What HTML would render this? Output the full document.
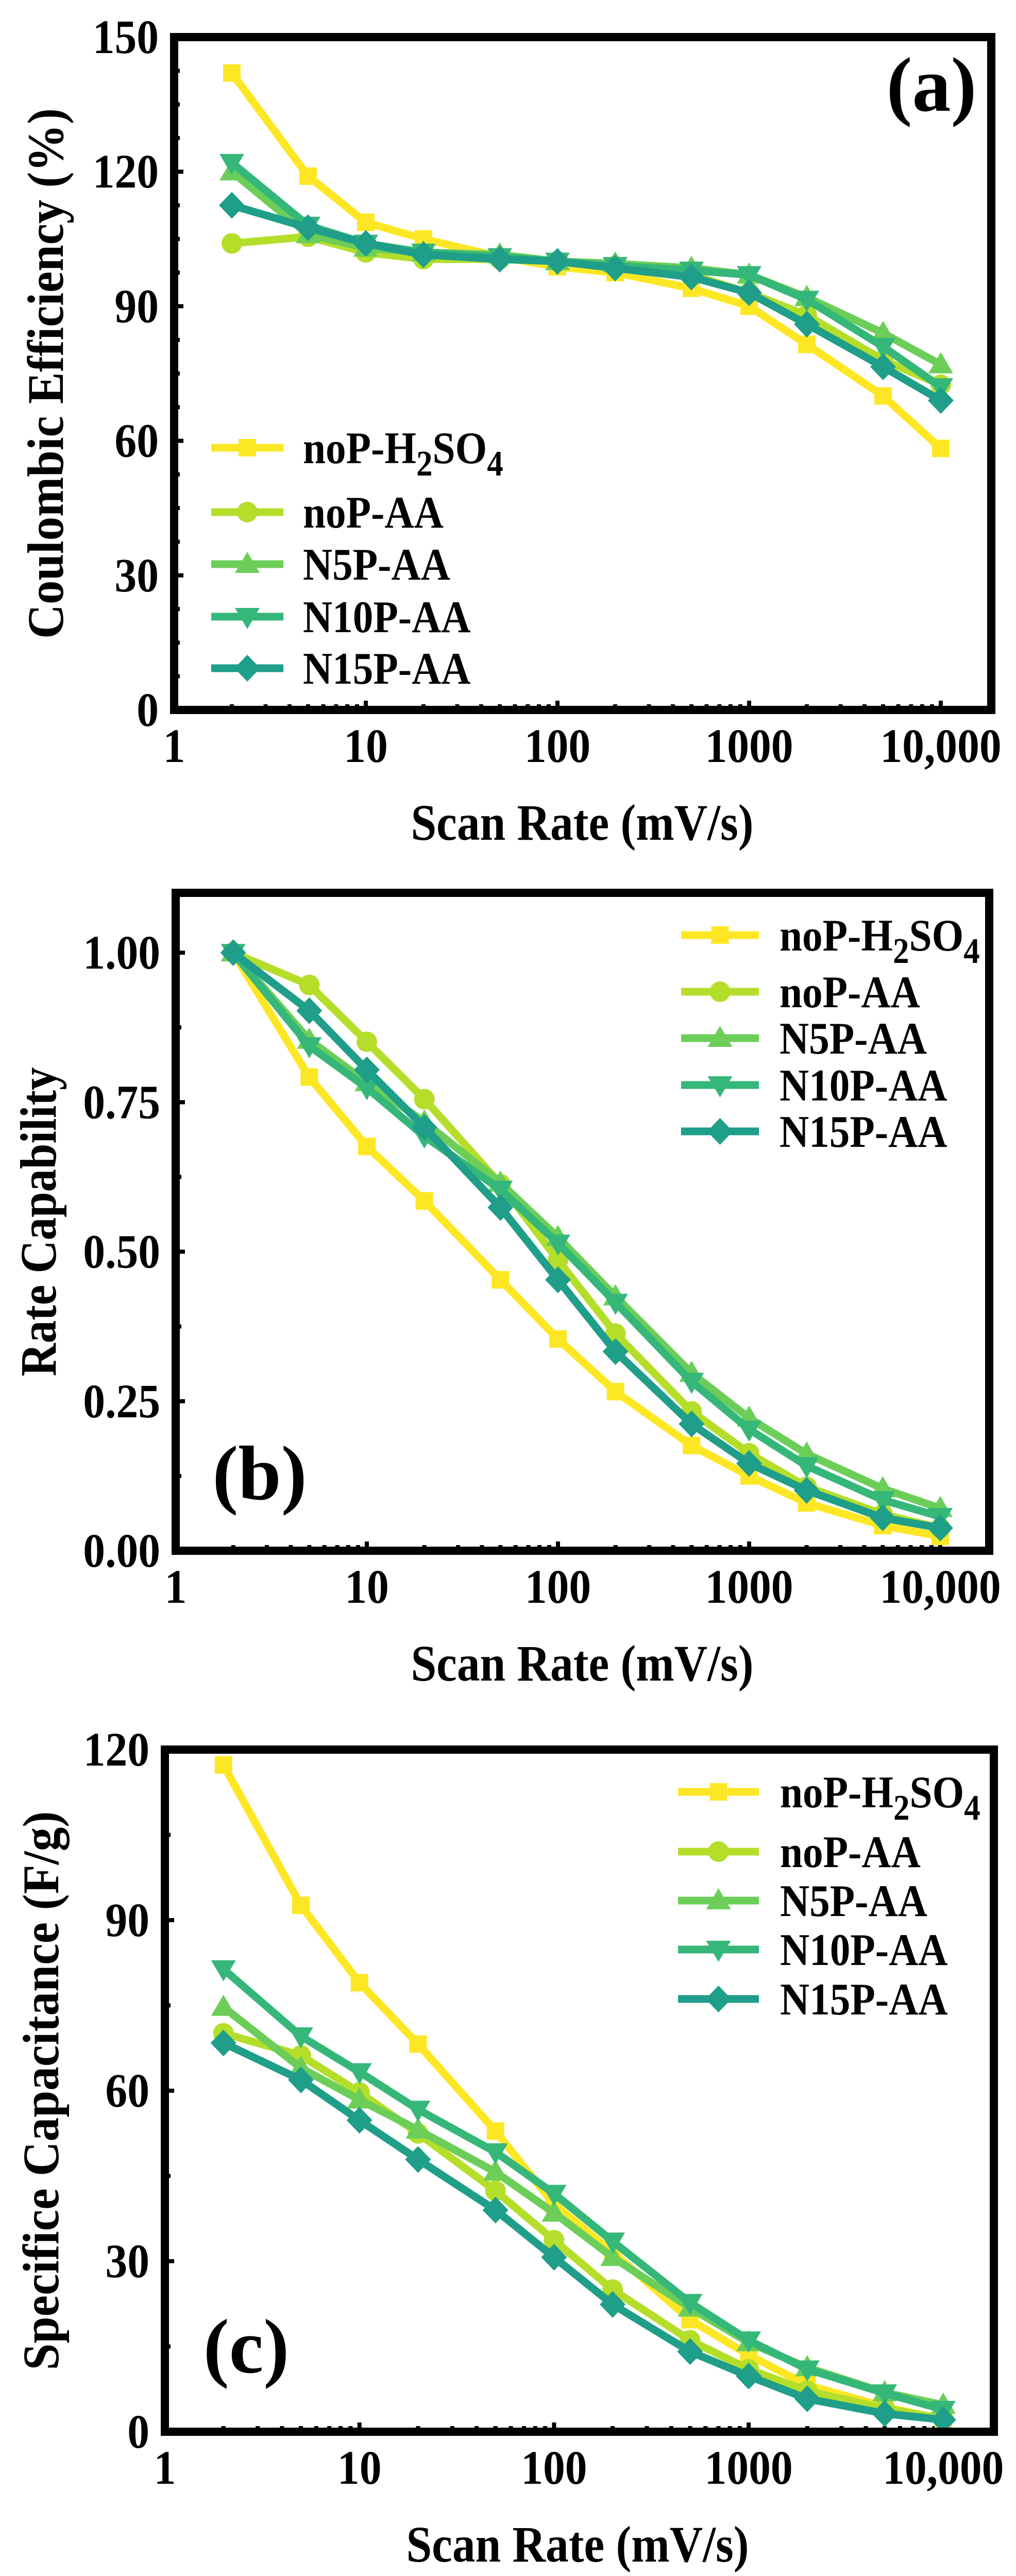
<!DOCTYPE html>
<html><head><meta charset="utf-8"><style>
html,body{margin:0;padding:0;background:#fff;overflow:hidden;width:1972px;height:5021px;}
svg{display:block;}
text{font-family:"Liberation Serif","DejaVu Serif",serif;font-weight:bold;fill:#000;}
</style></head><body>
<svg id="fig" width="1972" height="5021" viewBox="0 0 1972 5021" xmlns="http://www.w3.org/2000/svg" font-family="Liberation Serif, DejaVu Serif, serif" font-weight="bold"></svg>
<script>
const scanRates = [2,5,10,20,50,100,200,500,1000,2000,5000,10000];
const seriesNames = ["noP-H2SO4","noP-AA","N5P-AA","N10P-AA","N15P-AA"];
const seriesColors = ["#FDE725","#B5DE2B","#6CCE59","#35B779","#1F9E89"];
const seriesMarkers = ["square","circle","triangle","invtriangle","diamond"];
// Panel (a) Coulombic efficiency (%)
const ceH2SO4 = [142,119,108.7,105,101,98.8,97.5,94,90,81.5,70,58.3];
const ceNoP   = [104,105.5,102,100.5,100.5,100,99,97,93,88,78,72.5];
const ceN5P   = [120,106,103,102,101.5,100,99.5,98.5,97,92,84,77];
const ceN10P  = [122,108,104,102,101,100,99,98,97,91.5,81,72];
const ceN15P  = [112.5,107.5,104,101.5,100.5,100,98.5,96.5,93,86,76.5,69];
// Panel (b) rate capability
const rcH2SO4 = [1,0.792,0.676,0.585,0.453,0.354,0.266,0.176,0.125,0.08,0.042,0.024];
const rcNoP   = [1,0.946,0.851,0.755,0.613,0.486,0.363,0.233,0.163,0.107,0.061,0.038];
const rcN5P   = [1,0.854,0.783,0.717,0.615,0.524,0.425,0.297,0.222,0.162,0.104,0.071];
const rcN10P  = [1,0.844,0.774,0.693,0.604,0.514,0.415,0.283,0.203,0.142,0.085,0.057];
const rcN15P  = [1,0.903,0.804,0.708,0.574,0.453,0.333,0.212,0.146,0.101,0.055,0.038];
// Panel (c) specific capacitance (F/g)
const scH2SO4 = [117.3,92.6,79,68.2,52.9,40,31.6,19.7,13.5,8.2,4.4,2.1];
const scNoP   = [70.1,66.2,59.7,52.5,42.4,33.7,25,16.1,11,7.2,4.1,2.3];
const scN5P   = [74.7,64,58.4,53.1,45.7,38.5,30.7,21.8,15.7,11.3,6.9,4.7];
const scN10P  = [81.4,69.6,63.3,56.7,49.2,41.9,33.5,22.7,16.1,11,6.8,3.9];
const scN15P  = [68.4,61.9,54.8,47.9,39,30.7,22.4,14.1,9.8,5.8,3.2,2.1];
const xTickValues = [1,10,100,1000,10000];
const xTickLabels = ["1","10","100","1000","10,000"];
const ceTicks = [0,30,60,90,120,150];
const rcTicks = [0,0.25,0.5,0.75,1.0];
const rcTickLabels = ["0.00","0.25","0.50","0.75","1.00"];
const scTicks = [0,30,60,90,120];

const NS="http://www.w3.org/2000/svg";
const svg=document.getElementById('fig');
function mk(tag,attrs,parent){const e=document.createElementNS(NS,tag);for(const k in attrs)e.setAttribute(k,attrs[k]);(parent||svg).appendChild(e);return e;}

const panels=[
 {id:'a',L:338,R:1924,T:72,B:1378,dec:372,ymax:150,ticks:ceTicks,labels:ceTicks.map(String),minor:15,
  data:[ceH2SO4,ceNoP,ceN5P,ceN10P,ceN15P],ytitle:"Coulombic Efficiency (%)",ytx:88,ytlen:1030,
  leg:{x1:410,x2:550,tx:588,rows:[869,994,1095,1197,1297]},lab:"(a)",labx:1808,laby:215,xtx:1130},
 {id:'b',L:341,R:1920,T:1733,B:3010,dec:371,ymax:1.1,ticks:rcTicks,labels:rcTickLabels,minor:0.25,
  data:[rcH2SO4,rcNoP,rcN5P,rcN10P,rcN15P],ytitle:"Rate Capability",ytx:74,ytlen:600,
  leg:{x1:1322,x2:1473,tx:1513,rows:[1815,1925,2015,2106,2196]},lab:"(b)",labx:504,laby:2910,xtx:1130},
 {id:'c',L:320,R:1929,T:3396,B:4720,dec:377.7,ymax:120,ticks:scTicks,labels:scTicks.map(String),minor:30,
  data:[scH2SO4,scNoP,scN5P,scN10P,scN15P],ytitle:"Specifice Capacitance (F/g)",ytx:79,ytlen:1085,
  leg:{x1:1316,x2:1473,tx:1514,rows:[3478,3594,3689,3784,3880]},lab:"(c)",labx:478,laby:4605,xtx:1121}
];

function marker(g,type,x,y,color){
  let e;
  if(type==='square') e=mk('rect',{x:x-17,y:y-17,width:34,height:34,fill:color},g);
  else if(type==='circle') e=mk('circle',{cx:x,cy:y,r:20,fill:color},g);
  else if(type==='triangle') e=mk('polygon',{points:`${x},${y-24} ${x+24},${y+17} ${x-24},${y+17}`,fill:color},g);
  else if(type==='invtriangle') e=mk('polygon',{points:`${x},${y+24} ${x+24},${y-17} ${x-24},${y-17}`,fill:color},g);
  else e=mk('polygon',{points:`${x},${y-26} ${x+25},${y} ${x},${y+26} ${x-25},${y}`,fill:color},g);
  return e;
}
function condense(t,f){try{const w=t.getComputedTextLength();t.setAttribute('textLength',(w*f).toFixed(1));t.setAttribute('lengthAdjust','spacingAndGlyphs');}catch(e){}}

panels.forEach(p=>{
  const g=mk('g',{});
  
  
  const X=v=>p.L+Math.log10(v)*p.dec;
  const Y=v=>p.B-(v/p.ymax)*(p.B-p.T);
  const tg=mk('g',{stroke:'#000','stroke-width':8},g);
  
  
  for(let d=0;d<5;d++){for(let m=1;m<=9;m++){const v=m*Math.pow(10,d);const x=X(v);if(x>p.R-10)continue;
    mk('line',{x1:x,x2:x,y1:p.B,y2:p.B-(m===1?18:11)},tg);}}
  for(let v=0;v<=p.ymax+1e-9;v+=p.minor/2){const y=Y(v);if(y<p.T+8)continue;
    const major=p.ticks.some(t=>Math.abs(t-v)<1e-9);
    mk('line',{x1:p.L,x2:p.L+(major?18:11),y1:y,y2:y},tg);}
  p.data.forEach((vals,si)=>{
    const sg=mk('g',{},g);
    
    
    const pts=vals.map((v,i)=>X(scanRates[i]).toFixed(1)+','+Y(v).toFixed(1)).join(' ');
    const pl=mk('polyline',{points:pts,fill:'none',stroke:seriesColors[si],'stroke-width':15,'stroke-linejoin':'miter'},sg);
    
    
    vals.forEach((v,i)=>{const m=marker(sg,seriesMarkers[si],X(scanRates[i]),Y(v),seriesColors[si]);
      
      });
  });
  const fr=mk('rect',{x:p.L,y:p.T,width:p.R-p.L,height:p.B-p.T,fill:'none',stroke:'#000','stroke-width':16},g);
  
  
  xTickValues.forEach((v,i)=>{const t=mk('text',{x:X(v),y:p.B+101,'font-size':93,'text-anchor':'middle'},g);t.textContent=xTickLabels[i];
    
    
    condense(t,0.92);});
  p.ticks.forEach((v,i)=>{const t=mk('text',{x:p.L-30,y:Y(v)+31,'font-size':93,'text-anchor':'end'},g);t.textContent=p.labels[i];
    
    
    condense(t,0.92);});
  const xt=mk('text',{x:p.xtx,y:p.B+252,'font-size':100,'text-anchor':'middle',textLength:665,lengthAdjust:'spacingAndGlyphs'},g);
  xt.textContent='Scan Rate (mV/s)';
  
  
  const cy=(p.T+p.B)/2;
  const yt=mk('text',{x:0,y:0,'font-size':100,'text-anchor':'middle',textLength:p.ytlen,lengthAdjust:'spacingAndGlyphs',transform:`translate(${p.ytx+34},${cy}) rotate(-90)`},g);
  yt.textContent=p.ytitle;
  
  
  const pl=mk('text',{x:p.labx,y:p.laby,'font-size':150,'text-anchor':'middle'},g);
  pl.textContent=p.lab;
  
  
  const lg=mk('g',{},g);
  
  
  seriesNames.forEach((n,si)=>{
    const y=p.leg.rows[si];
    const eg=mk('g',{},lg);
    
    
    mk('line',{x1:p.leg.x1,x2:p.leg.x2,y1:y,y2:y,stroke:seriesColors[si],'stroke-width':15},eg);
    marker(eg,seriesMarkers[si],(p.leg.x1+p.leg.x2)/2,y,seriesColors[si]);
    const t=mk('text',{x:p.leg.tx,y:y+30,'font-size':88},eg);
    if(si===0){
      t.appendChild(document.createTextNode('noP-H'));
      const s1=mk('tspan',{dy:24,'font-size':70},t);s1.textContent='2';
      const s2=mk('tspan',{dy:-24,'font-size':88},t);s2.textContent='SO';
      const s3=mk('tspan',{dy:24,'font-size':70},t);s3.textContent='4';
    } else t.textContent=n;
    condense(t,0.9);
  });
});
</script>
</body></html>
